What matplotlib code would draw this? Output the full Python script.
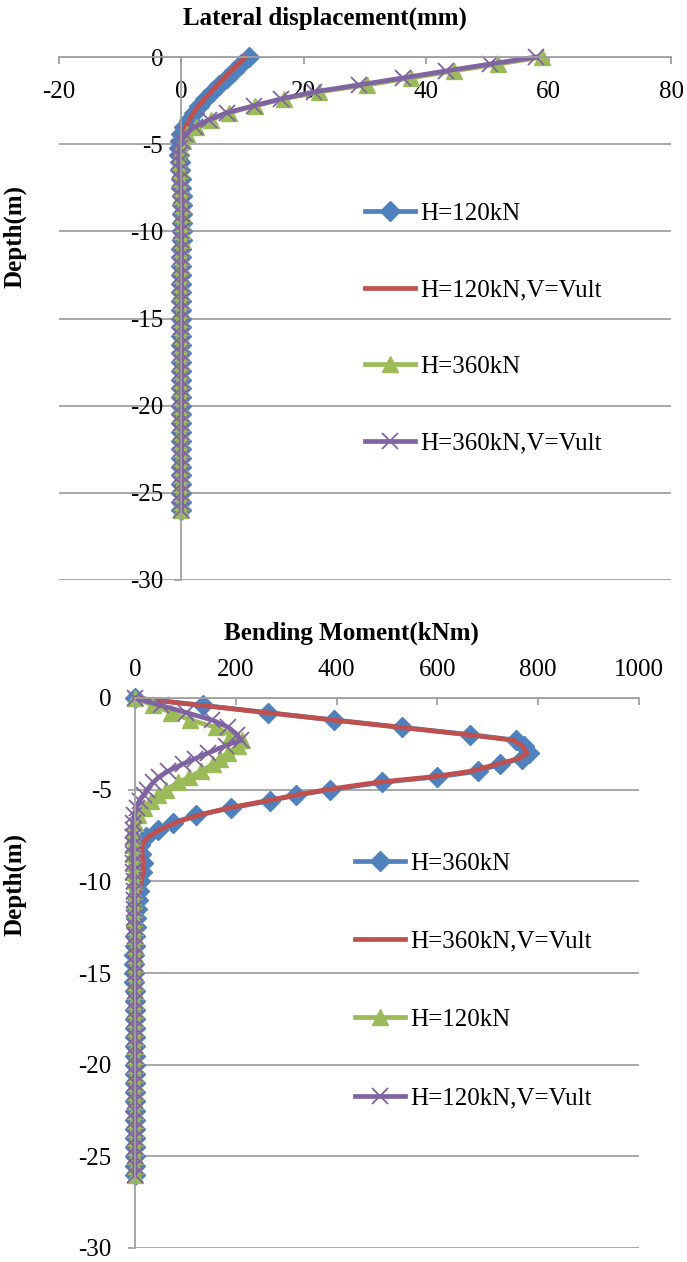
import matplotlib
matplotlib.use('Agg')
import matplotlib.pyplot as plt

plt.rcParams['font.family'] = ['Liberation Serif', 'DejaVu Serif']
plt.rcParams['axes.unicode_minus'] = False

# ---- lateral displacement (mm) vs depth (m) ----
depth_top = [0, -0.4, -0.8, -1.2, -1.6, -2.0, -2.4, -2.8, -3.2, -3.6, -4.0, -4.4, -4.8, -5.2, -5.6, -6.0,
             -6.5, -7.0, -7.5, -8.0, -8.5, -9.0, -9.5, -10.0, -10.5, -11.0, -11.5, -12.0, -12.5, -13.0,
             -13.5, -14.0, -14.5, -15.0, -15.5, -16.0, -16.5, -17.0, -17.5, -18.0, -18.5, -19.0, -19.5,
             -20.0, -20.5, -21.0, -21.5, -22.0, -22.5, -23.0, -23.5, -24.0, -24.5, -25.0, -25.5, -26.0]
disp_h120 = [11.0, 9.8, 8.6, 7.4, 6.2, 5.0, 3.9, 2.9, 2.0, 1.2, 0.5, 0.0, -0.3, -0.4, -0.4, -0.3,
             -0.2, -0.1, 0.0, 0.1, 0.1, 0.1, 0.1, 0.1, 0.1, 0.0, 0.0, 0.0, 0.0, 0.0,
             0.0, 0.0, 0.0, 0.0, 0.0, 0.0, 0.0, 0.0, 0.0, 0.0, 0.0, 0.0, 0.0,
             0.0, 0.0, 0.0, 0.0, 0.0, 0.0, 0.0, 0.0, 0.0, 0.0, 0.0, 0.0, 0.0]
disp_h120_v = [10.4, 9.3, 8.1, 7.0, 5.9, 4.8, 3.8, 2.8, 2.0, 1.3, 0.7, 0.3, 0.0, -0.2, -0.3, -0.2,
               -0.1, 0.0, 0.0, 0.1, 0.1, 0.1, 0.1, 0.0, 0.0, 0.0, 0.0, 0.0, 0.0, 0.0,
               0.0, 0.0, 0.0, 0.0, 0.0, 0.0, 0.0, 0.0, 0.0, 0.0, 0.0, 0.0, 0.0,
               0.0, 0.0, 0.0, 0.0, 0.0, 0.0, 0.0, 0.0, 0.0, 0.0, 0.0, 0.0, 0.0]
disp_h360 = [59.0, 51.8, 44.5, 37.5, 30.3, 22.5, 16.8, 12.0, 7.8, 4.8, 2.4, 0.9, 0.2, -0.2, -0.4, -0.4,
             -0.3, -0.2, -0.1, 0.0, 0.1, 0.1, 0.1, 0.1, 0.1, 0.0, 0.0, 0.0, 0.0, 0.0,
             0.0, 0.0, 0.0, 0.0, 0.0, 0.0, 0.0, 0.0, 0.0, 0.0, 0.0, 0.0, 0.0,
             0.0, 0.0, 0.0, 0.0, 0.0, 0.0, 0.0, 0.0, 0.0, 0.0, 0.0, 0.0, 0.0]
disp_h360_v = [58.0, 50.5, 43.2, 36.2, 29.0, 21.7, 16.3, 11.8, 7.4, 4.5, 2.2, 0.65, 0.1, -0.3, -0.4, -0.4,
               -0.3, -0.2, -0.1, 0.0, 0.1, 0.1, 0.1, 0.0, 0.0, 0.0, 0.0, 0.0, 0.0, 0.0,
               0.0, 0.0, 0.0, 0.0, 0.0, 0.0, 0.0, 0.0, 0.0, 0.0, 0.0, 0.0, 0.0,
               0.0, 0.0, 0.0, 0.0, 0.0, 0.0, 0.0, 0.0, 0.0, 0.0, 0.0, 0.0, 0.0]

# ---- bending moment (kNm) vs depth (m) ----
depth_bot = [0, -0.4, -0.8, -1.2, -1.6, -2.0, -2.3, -2.6, -3.0, -3.3, -3.6, -4.0, -4.3, -4.6, -5.0,
             -5.3, -5.6, -6.0, -6.4, -6.8, -7.2, -7.6, -8.0,
             -8.5, -9.0, -9.5, -10.0, -10.5, -11.0, -11.5, -12.0, -12.5, -13.0, -13.5, -14.0,
             -14.5, -15.0, -15.5, -16.0, -16.5, -17.0, -17.5, -18.0, -18.5, -19.0, -19.5, -20.0,
             -20.5, -21.0, -21.5, -22.0, -22.5, -23.0, -23.5, -24.0, -24.5, -25.0, -25.5, -26.0]
bm_h360 = [0, 135, 264, 395, 530, 665, 755, 772, 782, 768, 725, 680, 600, 490, 387,
           320, 268, 190, 122, 75, 45, 22, 10,
           12, 15, 14, 10, 7, 5, 3, 2, 1, 0, 0, -1,
           -1, -1, -1, 0, 0, 0, 0, 0, 0, 0, 0, 0,
           0, 0, 0, 0, 0, 0, 0, 0, 0, 0, 0, 0]
bm_h360_v = [0, 130, 262, 392, 525, 660, 750, 768, 778, 762, 720, 665, 590, 480, 380,
             318, 262, 185, 125, 80, 48, 25, 14,
             14, 16, 16, 12, 8, 5, 3, 2, 1, 0, 0, -1,
             -1, -1, 0, 0, 0, 0, 0, 0, 0, 0, 0, 0,
             0, 0, 0, 0, 0, 0, 0, 0, 0, 0, 0, 0]
bm_h120 = [0, 36, 72, 110, 160, 190, 212, 205, 185, 168, 155, 130, 108, 86, 62,
           45, 32, 17, 6, 0, -3, -4, -4,
           -4, -3, -3, -2, -2, -1, -1, -1, 0, 0, 0, 0,
           0, 0, 0, 0, 0, 0, 0, 0, 0, 0, 0, 0,
           0, 0, 0, 0, 0, 0, 0, 0, 0, 0, 0, 0]
bm_h120_v = [0, 51, 102, 153, 185, 203, 210, 180, 145, 120, 95, 65, 48, 36, 24,
             17, 9, 3, -1, -3, -4, -4, -4,
             -4, -3, -3, -2, -2, -1, -1, -1, 0, 0, 0, 0,
             0, 0, 0, 0, 0, 0, 0, 0, 0, 0, 0, 0,
             0, 0, 0, 0, 0, 0, 0, 0, 0, 0, 0, 0]

blue, red, green, purple = '#4F81BD', '#C0504D', '#9BBB59', '#8064A2'
grid_col = '#A0A0A0'
W, H = 687, 1262
fs = 18


def style_axes(ax):
    for s in ['top', 'right']:
        ax.spines[s].set_visible(False)
    ax.spines['left'].set_color(grid_col)
    ax.spines['bottom'].set_color(grid_col)
    ax.spines['left'].set_linewidth(1.3)
    ax.spines['bottom'].set_linewidth(1.3)
    ax.yaxis.grid(True, color=grid_col, linewidth=1.3)
    ax.set_axisbelow(True)
    ax.tick_params(colors=grid_col, labelcolor='black', labelsize=fs, width=1.3)


def draw_series(ax, xs, depth, color, marker, label):
    if marker == 'D':
        kw = dict(marker='D', ms=10)
    elif marker == '^':
        kw = dict(marker='^', ms=12)
    elif marker == 'x':
        kw = dict(marker='x', ms=11, mew=1.3)
    else:
        kw = {}
    ln, = ax.plot(xs, depth, color=color, lw=3.4, label=label, **kw)
    ln.set_clip_on(False)
    return ln


fig = plt.figure(figsize=(W / 100, H / 100), dpi=100)

# top panel
ax1 = fig.add_axes([59 / W, 1 - 580 / H, 612 / W, 523 / H])
ax1.set_xlim(-20, 80)
ax1.set_ylim(-30, 0)
style_axes(ax1)
ax1.spines['left'].set_position(('data', 0))
ax1.spines['bottom'].set_position(('data', 0))
ax1.set_xticks([-20, 0, 20, 40, 60, 80])
ax1.set_yticks([0, -5, -10, -15, -20, -25, -30])
ax1.tick_params(axis='x', direction='out', length=5, pad=12)
ax1.tick_params(axis='y', direction='out', length=5, pad=8)

draw_series(ax1, disp_h120, depth_top, blue, 'D', 'H=120kN')
draw_series(ax1, disp_h120_v, depth_top, red, None, 'H=120kN,V=Vult')
draw_series(ax1, disp_h360, depth_top, green, '^', 'H=360kN')
draw_series(ax1, disp_h360_v, depth_top, purple, 'x', 'H=360kN,V=Vult')

ax1.legend(loc='upper left', bbox_to_anchor=(365 / W, 1 - 202 / H), bbox_transform=fig.transFigure,
           frameon=False, fontsize=fs, handlelength=2.0, handletextpad=0.2, labelspacing=2.17,
           borderpad=0, borderaxespad=0, numpoints=1)

fig.text(325 / W, 1 - 18 / H, 'Lateral displacement(mm)', fontsize=fs, fontweight='bold',
         ha='center', va='center')
fig.text(15 / W, 1 - 237 / H, 'Depth(m)', fontsize=fs, fontweight='bold', rotation=90,
         ha='center', va='center')

# bottom panel
ax2 = fig.add_axes([135 / W, 1 - 1248 / H, 504 / W, 550 / H])
ax2.set_xlim(0, 1000)
ax2.set_ylim(-30, 0)
style_axes(ax2)
ax2.xaxis.tick_top()
ax2.spines['top'].set_visible(True)
ax2.spines['top'].set_color(grid_col)
ax2.spines['top'].set_linewidth(1.3)
ax2.spines['bottom'].set_visible(False)
ax2.set_xticks([0, 200, 400, 600, 800, 1000])
ax2.set_yticks([0, -5, -10, -15, -20, -25, -30])
ax2.tick_params(axis='x', direction='in', length=5, pad=12)
ax2.tick_params(axis='y', direction='out', length=5, pad=12)

draw_series(ax2, bm_h360, depth_bot, blue, 'D', 'H=360kN')
draw_series(ax2, bm_h360_v, depth_bot, red, None, 'H=360kN,V=Vult')
draw_series(ax2, bm_h120, depth_bot, green, '^', 'H=120kN')
draw_series(ax2, bm_h120_v, depth_bot, purple, 'x', 'H=120kN,V=Vult')

ax2.legend(loc='upper left', bbox_to_anchor=(355 / W, 1 - 852 / H), bbox_transform=fig.transFigure,
           frameon=False, fontsize=fs, handlelength=2.0, handletextpad=0.2, labelspacing=2.23,
           borderpad=0, borderaxespad=0, numpoints=1)

fig.text(351 / W, 1 - 633 / H, 'Bending Moment(kNm)', fontsize=fs, fontweight='bold',
         ha='center', va='center')
fig.text(15 / W, 1 - 885 / H, 'Depth(m)', fontsize=fs, fontweight='bold', rotation=90,
         ha='center', va='center')

fig.savefig('out.png', dpi=100)
